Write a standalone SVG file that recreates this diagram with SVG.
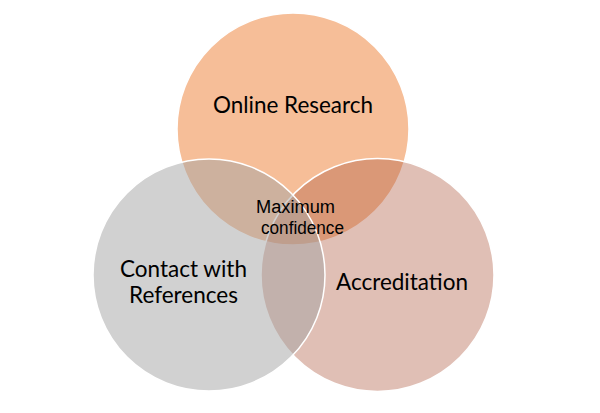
<svg xmlns="http://www.w3.org/2000/svg" width="600" height="413" viewBox="0 0 600 413">
<style>
.c{stroke:#ffffff;stroke-width:1.5}
.lbl{font-family:Lato,"Open Sans","Liberation Sans",sans-serif;font-size:23px;fill:#000;text-anchor:middle}
.mid{font-family:"Liberation Sans",Arial,sans-serif;font-size:18px;fill:#000;text-anchor:middle}
</style>
<rect width="600" height="413" fill="#ffffff"/>
<g id="node-online-research">
<circle class="c" cx="293" cy="129" r="116" fill="#ED7D31" fill-opacity="0.5"/>
</g>
<g id="node-accreditation">
<circle class="c" cx="377.5" cy="275" r="116.5" fill="#B15F46" fill-opacity="0.4"/>
</g>
<g id="node-contact">
<circle class="c" cx="209" cy="275" r="116" fill="#A3A3A3" fill-opacity="0.5"/>
</g>
<g id="connectors"></g>
<g id="labels">
<text class="lbl" x="293" y="113" textLength="160" lengthAdjust="spacingAndGlyphs">Online Research</text>
<text class="lbl" x="183.5" y="277" textLength="127" lengthAdjust="spacingAndGlyphs">Contact with</text>
<text class="lbl" x="183.5" y="303" textLength="109" lengthAdjust="spacingAndGlyphs">References</text>
<text class="lbl" x="402" y="290" textLength="132" lengthAdjust="spacingAndGlyphs">Accreditation</text>
<text class="mid" x="295.5" y="213" textLength="79" lengthAdjust="spacingAndGlyphs">Maximum</text>
<text class="mid" x="302.5" y="234" textLength="83" lengthAdjust="spacingAndGlyphs">confidence</text>
</g>
</svg>
